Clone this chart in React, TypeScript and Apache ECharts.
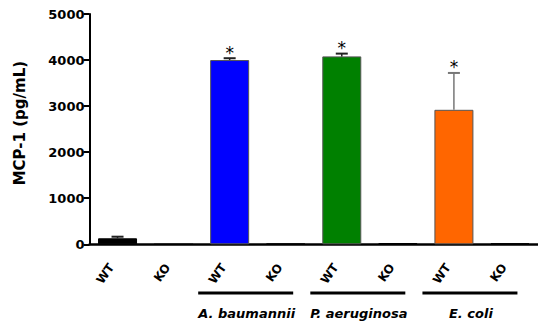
import React, { useEffect, useRef } from "react";
import * as echarts from "echarts";

const categories = ["WT", "KO", "WT", "KO", "WT", "KO", "WT", "KO"];
const values = [130, 0, 4000, 12, 4080, 28, 2920, 22];
const errors = [35, 0, 40, 0, 60, 0, 800, 0];
const stars = ["", "", "*", "", "*", "", "*", ""];
const barColors = ["#000000", "#000000", "#0000FF", "#000000", "#008000", "#000000", "#FF6600", "#000000"];
const groupNames = ["A. baumannii", "P. aeruginosa", "E. coli"];
const groupStart = [2, 4, 6];
const yTicks = { min: 0, max: 5000, interval: 1000 };

export default function App() {
  const ref = useRef<HTMLDivElement>(null);
  useEffect(() => {
    document.body.style.margin = "0";
    const chart = echarts.init(ref.current!, undefined, { renderer: "svg" });
    const font = "DejaVu Sans";
    const option: any = {
      animation: false,
      grid: { left: 89.5, top: 14, height: 230.3, width: 458 },
      xAxis: {
        type: "category",
        data: categories,
        axisLine: { lineStyle: { color: "#000", width: 2.5 } },
        axisTick: { show: false },
        axisLabel: { show: false },
      },
      yAxis: {
        type: "value",
        min: yTicks.min,
        max: yTicks.max,
        interval: yTicks.interval,
        name: "MCP-1 (pg/mL)",
        nameLocation: "middle",
        nameGap: 62,
        nameTextStyle: { color: "#000", fontFamily: font, fontWeight: "bold", fontSize: 15, padding: [0, 0, 0, 12] },
        splitLine: { show: false },
        axisLine: { show: true, lineStyle: { color: "#000", width: 2 } },
        axisTick: { show: true, length: 6, lineStyle: { color: "#000", width: 2 } },
        axisLabel: {
          color: "#000",
          fontFamily: font,
          fontWeight: "bold",
          fontSize: 13,
          margin: 5,
          formatter: (v: number) => String(v),
        },
      },
      series: [
        {
          type: "bar",
          barWidth: 39,
          data: values.map((v, i) => ({
            value: v,
            itemStyle: { color: barColors[i], borderColor: i % 2 === 1 || i === 0 ? "#000" : "#555", borderWidth: 1 },
          })),
        },
        {
          type: "custom",
          data: values.map((v, i) => [i, v, errors[i]]),
          renderItem: (params: any, api: any) => {
            const idx = api.value(0);
            const v = api.value(1);
            const e = api.value(2);
            const s = stars[idx];
            const base = api.coord([idx, v]);
            const top = api.coord([idx, v + e]);
            const children: any[] = [];
            if (e > 0) {
              children.push({
                type: "line",
                shape: { x1: base[0], y1: base[1], x2: top[0], y2: top[1] },
                style: { stroke: idx === 6 ? "#777" : "#222", lineWidth: 1.5 },
              });
              children.push({
                type: "line",
                shape: { x1: top[0] - 6, y1: top[1], x2: top[0] + 6, y2: top[1] },
                style: { stroke: idx === 6 ? "#777" : "#222", lineWidth: 2 },
              });
            }
            if (s) {
              children.push({
                type: "text",
                style: {
                  text: s,
                  x: top[0],
                  y: top[1] + 3,
                  align: "center",
                  verticalAlign: "bottom",
                  fill: "#000",
                  fontSize: 17,
                  fontFamily: "DejaVu Sans",
                },
              });
            }
            return { type: "group", children };
          },
          z: 5,
        },
      ],
    };
    chart.setOption(option);
    const graphics: any[] = [];
    categories.forEach((c, i) => {
      const x = chart.convertToPixel({ xAxisIndex: 0 }, i) as number;
      graphics.push({
        type: "text",
        x: x - 6,
        y: 265,
        rotation: 0.96,
        style: {
          text: c,
          x: 0,
          y: 0,
          align: "right",
          verticalAlign: "middle",
          fill: "#000",
          font: "bold 12px 'DejaVu Sans'",
        },
      });
    });
    groupNames.forEach((g, k) => {
      const a = chart.convertToPixel({ xAxisIndex: 0 }, groupStart[k]) as number;
      const b = chart.convertToPixel({ xAxisIndex: 0 }, groupStart[k] + 1) as number;
      const c = (a + b) / 2 - 12;
      graphics.push({
        type: "line",
        shape: { x1: c - 47.5, y1: 293, x2: c + 47.5, y2: 293 },
        style: { stroke: "#000", lineWidth: 3 },
      });
      graphics.push({
        type: "text",
        style: {
          text: g,
          x: c + 1,
          y: 313,
          align: "center",
          verticalAlign: "middle",
          fill: "#000",
          font: "italic bold 13px 'DejaVu Sans'",
        },
      });
    });
    chart.setOption({ graphic: graphics });
    return () => chart.dispose();
  }, []);
  return <div ref={ref} style={{ width: 538, height: 326, position: "absolute", left: 0, top: 0 }} />;
}
